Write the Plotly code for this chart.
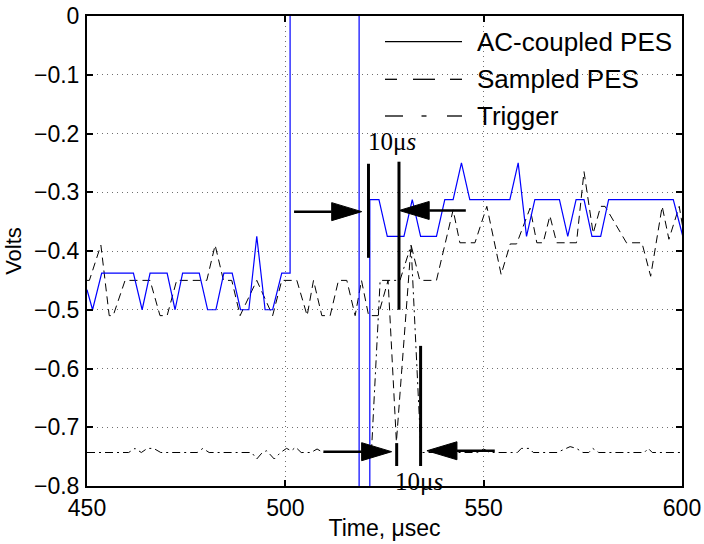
import plotly.graph_objects as go

# ---------------- data ----------------
# AC-coupled PES (blue solid)
ac_t = [450.0, 451.4, 453.7, 461.7, 463.9, 465.9, 470.2, 472.2, 474.1, 478.3,
        480.4, 482.5, 484.5, 486.6, 488.7, 490.8, 492.8, 494.9, 496.8, 499.1,
        501.2, 501.2, 518.6, 518.6, 521.3, 521.3, 523.6, 525.7, 529.9, 532.0,
        534.1, 538.1, 540.2, 542.3, 544.4, 546.5, 556.6, 558.7, 560.8, 562.9,
        569.1, 571.2, 573.3, 575.3, 577.3, 579.5, 581.5, 597.8, 600.2]
ac_v = [-0.466, -0.5, -0.4375, -0.4375, -0.5, -0.4375, -0.4375, -0.5, -0.4375, -0.4375,
        -0.5, -0.5, -0.4375, -0.4375, -0.5, -0.5, -0.375, -0.5, -0.5, -0.4375,
        -0.4375, 0.5, 0.5, -1.0, -1.0, -0.3125, -0.3125, -0.375, -0.375, -0.3125,
        -0.375, -0.375, -0.3125, -0.3125, -0.25, -0.3125, -0.3125, -0.25, -0.375, -0.3125,
        -0.3125, -0.375, -0.3125, -0.3125, -0.375, -0.375, -0.3125, -0.3125, -0.375]

# Sampled PES (black dashed)
sp_t = [450.0, 450.6, 453.5, 455.6, 456.6, 459.6, 465.9, 468.4, 470.2, 472.6,
        480.2, 482.3, 484.4, 486.5, 488.6, 492.8, 496.8, 499.1, 502.9, 505.5,
        507.1, 509.2, 511.3, 513.4, 515.5, 517.6, 519.2, 521.0, 523.4, 525.9,
        528.0, 531.7, 533.9, 538.1, 542.3, 544.0, 547.8, 550.8, 554.4, 556.7,
        558.3, 561.7, 563.4, 565.0, 566.7, 568.4, 573.4, 575.3, 577.6, 579.5,
        580.6, 586.0, 589.9, 592.1, 595.0, 596.7, 599.3, 600.2]
sp_v = [-0.45, -0.45, -0.39, -0.51, -0.51, -0.45, -0.45, -0.51, -0.51, -0.45,
        -0.45, -0.39, -0.45, -0.45, -0.51, -0.45, -0.51, -0.45, -0.45, -0.51,
        -0.45, -0.51, -0.51, -0.45, -0.45, -0.51, -0.45, -0.51, -0.51, -0.45,
        -0.725, -0.39, -0.45, -0.45, -0.33, -0.386, -0.386, -0.324, -0.44, -0.388,
        -0.388, -0.327, -0.386, -0.386, -0.34, -0.386, -0.386, -0.265, -0.37, -0.324,
        -0.324, -0.386, -0.386, -0.443, -0.324, -0.38, -0.324, -0.36]

# Trigger (black dash-dot)
tr_t = [450.0, 460.5, 462.1, 463.7, 465.2, 466.8, 468.6, 477.8, 479.2, 480.8,
        491.5, 492.8, 494.2, 495.3, 497.2, 498.8, 500.3, 501.5, 502.6, 504.0,
        506.5, 508.0, 509.5, 521.7, 523.9, 528.9, 531.7, 534.2, 548.5, 550.0,
        551.5, 558.5, 559.5, 561.5, 562.5, 568.5, 571.8, 573.4, 575.0, 576.5,
        577.5, 579.0, 590.5, 591.5, 592.5, 600.0]
tr_v = [-0.743, -0.743, -0.736, -0.743, -0.736, -0.736, -0.743, -0.743, -0.736, -0.743,
        -0.743, -0.754, -0.743, -0.740, -0.754, -0.743, -0.736, -0.740, -0.734, -0.743,
        -0.743, -0.737, -0.743, -0.743, -0.45, -0.45, -0.39, -0.743, -0.743, -0.737,
        -0.743, -0.743, -0.736, -0.736, -0.743, -0.743, -0.733, -0.736, -0.743, -0.743,
        -0.736, -0.743, -0.743, -0.736, -0.743, -0.743]

x_ticks = [450, 500, 550, 600]
y_ticks = [-0.8, -0.7, -0.6, -0.5, -0.4, -0.3, -0.2, -0.1, 0]

legend_labels = ["AC-coupled PES", "Sampled PES", "Trigger"]

# marker bars: time, start value, end value
bar_t = [520.96, 528.65, 528.07, 534.1]
bar_v0 = [-0.2515, -0.248, -0.727, -0.5615]
bar_v1 = [-0.4116, -0.5, -0.766, -0.766]

# arrows: tail time, tip time, level
arrow_tail = [502.2, 545.5, 509.6, 552.8]
arrow_tip = [519.25, 528.7, 526.8, 535.7]
arrow_v = [-0.333, -0.331, -0.7416, -0.740]

label_text = ["10\u03bc<i>s</i>", "10\u03bc<i>s</i>"]
label_t = [526.8, 533.7]
label_v = [-0.214, -0.7915]

# ---------------- figure ----------------
W, H = 704, 544
ML, MR, MT, MB = 87, 22, 16, 58
PW, PH = W - ML - MR, H - MT - MB
X0, X1 = 450, 600
Y0, Y1 = -0.8, 0.0
px_per_x = PW / (X1 - X0)
px_per_y = PH / (Y1 - Y0)

FONT = "Liberation Sans, Arial, Helvetica, sans-serif"

fig = go.Figure()
fig.add_trace(go.Scatter(x=sp_t, y=sp_v, mode="lines", showlegend=False,
                         line=dict(color="black", width=1, dash="8px,5px")))
fig.add_trace(go.Scatter(x=tr_t, y=tr_v, mode="lines", showlegend=False,
                         line=dict(color="black", width=1, dash="8px,4px,2px,4px")))
fig.add_trace(go.Scatter(x=ac_t, y=ac_v, mode="lines", showlegend=False,
                         line=dict(color="#0000ff", width=1.2)))

shapes = []
for t, a, b in zip(bar_t, bar_v0, bar_v1):
    shapes.append(dict(type="line", xref="x", yref="y", x0=t, x1=t, y0=a, y1=b,
                       line=dict(color="black", width=3), layer="above"))

head_len = 30 / px_per_x
head_half = 9 / px_per_y
for tail, tip, v in zip(arrow_tail, arrow_tip, arrow_v):
    d = 1 if tip > tail else -1
    base = tip - d * head_len
    shapes.append(dict(type="line", xref="x", yref="y", x0=tail, x1=base, y0=v, y1=v,
                       line=dict(color="black", width=2.5), layer="above"))
    shapes.append(dict(type="path", xref="x", yref="y",
                       path=f"M{tip},{v} L{base},{v + head_half} L{base},{v - head_half} Z",
                       fillcolor="black", line=dict(color="black", width=1), layer="above"))

annotations = []
for txt, t, v in zip(label_text, label_t, label_v):
    annotations.append(dict(x=t, y=v, xref="x", yref="y", text=txt, showarrow=False,
                            font=dict(family="Liberation Serif, Times New Roman, serif",
                                      size=25, color="black"),
                            xanchor="center", yanchor="middle"))

# custom legend (paper coords)
def px2paper(px, py):
    return (px - ML) / PW, (H - MB - py) / PH

row_y = [41.7, 79.3, 116.0]
seg_sets = [
    [(385, 462)],
    [(385, 397), (413, 435), (450, 462)],
    [(385, 403), (421.5, 426.5), (447, 462)],
]
for label, ry, segs in zip(legend_labels, row_y, seg_sets):
    for s0, s1 in segs:
        xa, ya = px2paper(s0, ry)
        xb, _ = px2paper(s1, ry)
        shapes.append(dict(type="line", xref="paper", yref="paper", x0=xa, x1=xb,
                           y0=ya, y1=ya, line=dict(color="black", width=1.3)))
    tx, ty = px2paper(475, ry)
    annotations.append(dict(x=tx, y=ty, xref="paper", yref="paper", text=label,
                            showarrow=False, xanchor="left", yanchor="middle",
                            font=dict(family=FONT, size=26, color="black")))

axis_common = dict(showgrid=True, gridcolor="#707070", griddash="1px,4px", gridwidth=1,
                   showline=True, linecolor="black", linewidth=2, mirror="ticks",
                   ticks="inside", ticklen=6, tickwidth=1.5, tickcolor="black",
                   zeroline=False, automargin=False,
                   tickfont=dict(family=FONT, size=23, color="black"))

fig.update_layout(
    width=W, height=H,
    margin=dict(l=ML, r=MR, t=MT, b=MB),
    paper_bgcolor="white", plot_bgcolor="white",
    showlegend=False,
    shapes=shapes, annotations=annotations,
    xaxis=dict(range=[X0, X1], tickvals=x_ticks, ticklabelstandoff=0,
               title=dict(text="Time, \u03bcsec", font=dict(family=FONT, size=23, color="black"),
                          standoff=0),
               **axis_common),
    yaxis=dict(range=[Y0, Y1], tickvals=y_ticks, ticklabelstandoff=1,
               title=dict(text="Volts", font=dict(family=FONT, size=22, color="black"),
                          standoff=6),
               **axis_common),
)

fig.write_html("out.html",
               config={"displayModeBar": False},
               post_script="document.body.style.margin='0';document.body.style.overflow='hidden';")
